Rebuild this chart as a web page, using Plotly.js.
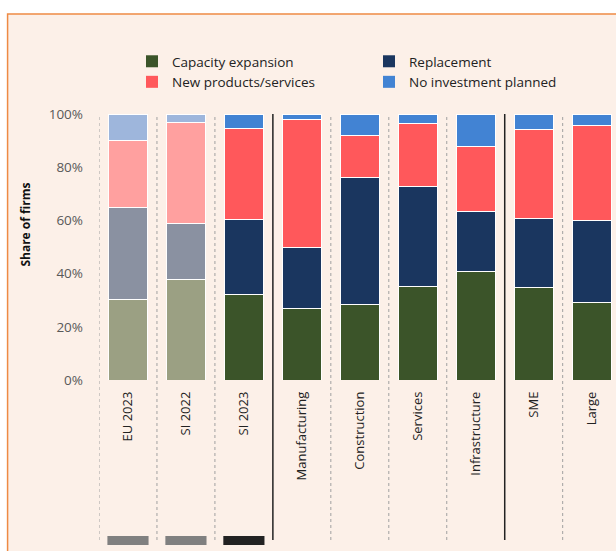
<!DOCTYPE html>
<html>
<head>
<meta charset="utf-8">
<script src="https://cdn.plot.ly/plotly-3.0.1.min.js"></script>
<style>html,body{margin:0;padding:0;background:#fff;}#chart{width:616px;height:551px;}</style>
</head>
<body>
<div id="chart"></div>
<script>
// ---- data (shares of firms, %) ----
const categories = ["EU 2023", "SI 2022", "SI 2023", "Manufacturing", "Construction", "Services", "Infrastructure", "SME", "Large"];
const capacityExpansion = [30.3, 37.6, 32.2, 26.8, 28.5, 35.0, 40.9, 34.7, 29.3];
const replacement       = [34.5, 21.3, 28.2, 23.1, 47.8, 37.8, 22.6, 26.1, 30.7];
const newProducts       = [25.4, 37.8, 34.1, 48.2, 15.5, 23.8, 24.2, 33.3, 35.5];
const noInvestment      = [ 9.8,  3.3,  5.5,  1.9,  8.2,  3.4, 12.3,  5.9,  4.5];
const seriesNames = ["Capacity expansion", "Replacement", "New products/services", "No investment planned"];
const yTickValues = [0, 20, 40, 60, 80, 100];
const yTickLabels = ["0%", "20%", "40%", "60%", "80%", "100%"];
const comparisonCategories = ["EU 2023", "SI 2022"];   // shown faded
const groupBreaks = [2.5, 6.5];                          // solid separators between groups
const bottomMarkerColors = ["#808080", "#808080", "#222222"]; // small boxes under first three

// ---- styles ----
const fullColors  = ["#3B5429", "#1A365F", "#FF585B", "#4283D3"];
const fadedColors = ["#9BA083", "#8A91A1", "#FFA09F", "#9EB6DC"];
const seriesValues = [capacityExpansion, replacement, newProducts, noInvestment];
const font = "'Open Sans', 'DejaVu Sans', sans-serif";

const traces = seriesValues.map((vals, s) => ({
  type: "bar",
  name: seriesNames[s],
  x: categories,
  y: vals,
  marker: {
    color: categories.map(c => comparisonCategories.includes(c) ? fadedColors[s] : fullColors[s]),
    line: {color: "#ffffff", width: 1}
  },
  showlegend: false,
  hoverinfo: "skip"
}));
// legend entries (uniform full colour swatches)
seriesNames.forEach((n, s) => traces.push({
  type: "bar", name: n, x: [categories[0]], y: [null],
  marker: {color: fullColors[s]}, showlegend: true, hoverinfo: "skip"
}));

const L = 98.5, W = 517.5, T = 114, H = 266;
const px2x = p => (p - L) / W;
const px2y = p => (T + H - p) / H;

const shapes = [];
// background panel with orange border
shapes.push({type: "rect", xref: "paper", yref: "paper", layer: "below",
  x0: px2x(7), x1: px2x(640), y0: px2y(580), y1: px2y(14),
  fillcolor: "#FCF0E8", line: {color: "#EE8A44", width: 1.5}});
// separators between categories
for (let i = 0; i < categories.length; i++) {
  const xb = i - 0.5;
  const solid = groupBreaks.includes(xb);
  shapes.push({type: "line", xref: "x", yref: "paper", layer: "above",
    x0: xb, x1: xb, y0: px2y(540), y1: 1,
    line: solid ? {color: "#222222", width: 1.5} : {color: "#A0A0A0", width: 1, dash: "dot"}});
}
// boxes under the first three categories
bottomMarkerColors.forEach((col, i) => shapes.push({type: "rect", xref: "x", yref: "paper",
  x0: i - 0.355, x1: i + 0.355, y0: px2y(545), y1: px2y(536),
  fillcolor: col, line: {width: 0}}));

const layout = {
  width: 616, height: 551,
  margin: {l: L, r: 0, t: T, b: 551 - T - H, pad: 0},
  paper_bgcolor: "#ffffff",
  plot_bgcolor: "rgba(0,0,0,0)",
  barmode: "stack",
  bargap: 0.33,
  font: {family: font, color: "#222222", size: 13},
  showlegend: true,
  legend: {
    orientation: "h", xref: "container", yref: "container",
    x: 132 / 616, y: 1 - 46 / 551, xanchor: "left", yanchor: "top",
    entrywidth: 192, entrywidthmode: "pixels",
    bgcolor: "rgba(0,0,0,0)", font: {family: font, size: 13.5, color: "#222222"},
    traceorder: "normal"
  },
  xaxis: {
    type: "category", range: [-0.5, 8.42], fixedrange: true,
    showgrid: false, zeroline: false, showline: false,
    tickangle: -90, ticks: "", ticklabelstandoff: 8,
    tickfont: {family: font, size: 13, color: "#222222"}
  },
  yaxis: {
    range: [0, 100], tickvals: yTickValues, ticktext: yTickLabels,
    showgrid: false, zeroline: false, showline: false, ticks: "",
    ticklabelstandoff: 15,
    tickfont: {family: font, size: 13.5, color: "#595959"}
  },
  annotations: [{
    text: "<b>Share of firms</b>", textangle: -90, showarrow: false,
    xref: "paper", yref: "paper", x: px2x(24), y: px2y(225),
    xanchor: "center", yanchor: "middle",
    font: {family: font, size: 12, color: "#111111"}
  }],
  shapes: shapes
};

Plotly.newPlot("chart", traces, layout, {displayModeBar: false, staticPlot: true});
</script>
</body>
</html>
